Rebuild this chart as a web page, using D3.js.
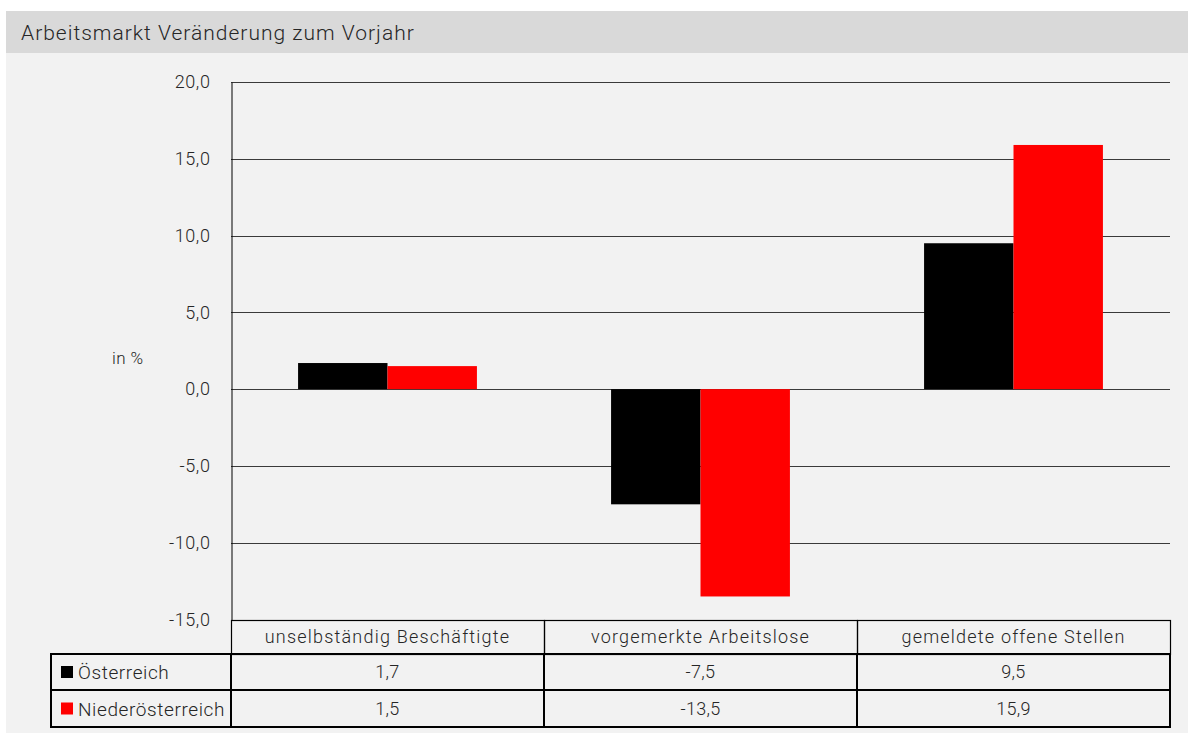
<!DOCTYPE html>
<html><head><meta charset="utf-8">
<script src="https://cdn.jsdelivr.net/npm/d3@7"></script>
<style>
body{margin:0;background:#fff;}
svg{display:block;font-family:Roboto,"Liberation Sans",sans-serif;font-weight:300;}
</style></head><body>
<svg id="c" width="1188" height="733"></svg>
<script>
const title = "Arbeitsmarkt Veränderung zum Vorjahr";
const categories = ["unselbständig Beschäftigte","vorgemerkte Arbeitslose","gemeldete offene Stellen"];
const seriesNames = ["Österreich","Niederösterreich"];
const seriesColors = ["#000000","#ff0000"];
const oesterreich = [1.7,-7.5,9.5];
const niederoesterreich = [1.5,-13.5,15.9];
const yTicks = [-15,-10,-5,0,5,10,15,20];
const yLabel = "in %";

const series = [oesterreich, niederoesterreich];
const svg = d3.select("#c");
const W = 1188, H = 733;
const L = 231, R = 1170, T = 82, B = 619.5;
const fmt = v => d3.format(".1f")(v).replace(".", ",").replace("−","-");

svg.append("rect").attr("x",6).attr("y",11).attr("width",W-6).attr("height",42).attr("fill","#d9d9d9");
svg.append("rect").attr("x",6).attr("y",53).attr("width",W-6).attr("height",H-53).attr("fill","#f2f2f2");
svg.append("text").attr("x",21).attr("y",40).attr("font-size",21).attr("letter-spacing",1).attr("fill","#262626").text(title);

const y = d3.scaleLinear().domain([-15,20]).range([B,T]);
const x0 = d3.scaleBand().domain(categories).range([L,R]).paddingInner(0).paddingOuter(0);
const x1 = d3.scaleBand().domain(seriesNames).range([0,x0.bandwidth()]).paddingInner(0).paddingOuter(0.75);

// grid
svg.append("g").selectAll("line").data(yTicks).join("line")
  .attr("x1",L).attr("x2",R).attr("y1",d=>Math.round(y(d))+0.5).attr("y2",d=>Math.round(y(d))+0.5)
  .attr("stroke","#3a3a3a").attr("stroke-width",1);

// y axis
const ya = d3.axisLeft(y).tickValues(yTicks).tickSize(0).tickPadding(21).tickFormat(fmt);
const gy = svg.append("g").attr("transform",`translate(${L+0.5},0)`).call(ya);
gy.select(".domain").attr("stroke","#000");
gy.selectAll("text").attr("font-size",18).attr("letter-spacing",0.6).attr("fill","#262626").attr("font-family","Roboto").attr("font-weight",300);

svg.append("text").attr("x",112).attr("y",364).attr("font-size",17).attr("letter-spacing",0.4).attr("fill","#262626").text(yLabel);

// bars
categories.forEach((c,i)=>{
  seriesNames.forEach((s,j)=>{
    const v = series[j][i];
    svg.append("rect")
      .attr("x",x0(c)+x1(s)).attr("width",x1.bandwidth())
      .attr("y",y(Math.max(0,v))).attr("height",Math.abs(y(v)-y(0)))
      .attr("fill",seriesColors[j]);
  });
});

// table
const rowsY = [620,654,690,727];
const tbl = svg.append("g");
// header row
categories.forEach((c,i)=>{
  tbl.append("rect").attr("x",x0(c)+0.5).attr("y",rowsY[0]+0.5).attr("width",x0.bandwidth()).attr("height",rowsY[1]-rowsY[0])
    .attr("fill","none").attr("stroke","#000").attr("stroke-width",1.2);
  tbl.append("text").attr("x",x0(c)+x0.bandwidth()/2).attr("y",(rowsY[0]+rowsY[1])/2+6)
    .attr("text-anchor","middle").attr("font-size",18).attr("letter-spacing",1.2).attr("fill","#262626").text(c);
});
// data rows
seriesNames.forEach((s,j)=>{
  const yt = rowsY[j+1], yb = rowsY[j+2];
  tbl.append("rect").attr("x",51).attr("y",yt).attr("width",L-51).attr("height",yb-yt)
    .attr("fill","none").attr("stroke","#000").attr("stroke-width",2);
  tbl.append("rect").attr("x",61).attr("y",(yt+yb)/2-6).attr("width",12).attr("height",12).attr("fill",seriesColors[j]);
  tbl.append("text").attr("x",78).attr("y",(yt+yb)/2+7).attr("font-size",19).attr("letter-spacing",0.6).attr("fill","#262626").text(s);
  categories.forEach((c,i)=>{
    tbl.append("rect").attr("x",x0(c)).attr("y",yt).attr("width",x0.bandwidth()).attr("height",yb-yt)
      .attr("fill","none").attr("stroke","#000").attr("stroke-width",2);
    tbl.append("text").attr("x",x0(c)+x0.bandwidth()/2).attr("y",(yt+yb)/2+6)
      .attr("text-anchor","middle").attr("font-size",18).attr("letter-spacing",0.3).attr("fill","#262626").text(fmt(series[j][i]));
  });
});
</script></body></html>
